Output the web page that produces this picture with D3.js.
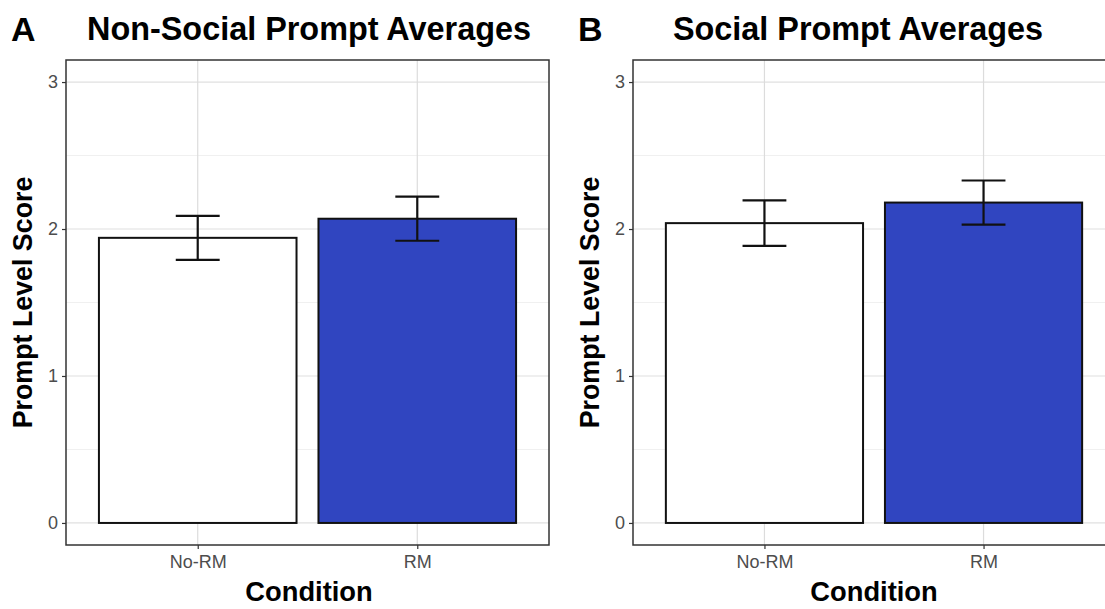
<!DOCTYPE html>
<html>
<head>
<meta charset="utf-8">
<script src="https://cdn.jsdelivr.net/npm/d3@7"></script>
<style>
  body { margin: 0; background: #fff; }
  svg { font-family: "Liberation Sans", Arial, sans-serif; }
</style>
</head>
<body>
<div id="chart"></div>
<script>
// data
const conditions = ["No-RM", "RM"];
const nonSocialMeans = [1.94, 2.07];
const nonSocialSE = [0.15, 0.15];
const socialMeans = [2.04, 2.18];
const socialSE = [0.155, 0.15];
const barColors = ["#ffffff", "#3045c0"];
const yTicks = [0, 1, 2, 3];
const yMinor = [0.5, 1.5, 2.5];

const svg = d3.select('#chart').append('svg')
    .attr('width', 1105)
    .attr('height', 609);

const panels = [
    {tag: "A", title: "Non-Social Prompt Averages", means: nonSocialMeans, se: nonSocialSE,
     left: 66, right: 549, titleX: 309, tagX: 11, xTitleX: 309},
    {tag: "B", title: "Social Prompt Averages", means: socialMeans, se: socialSE,
     left: 633, right: 1115, titleX: 858, tagX: 578, xTitleX: 874}
];

const panelTop = 60, panelBottom = 545;

panels.forEach(p => {
    const g = svg.append('g');

    const y = d3.scaleLinear().domain([-0.15, 3.15]).range([panelBottom, panelTop]);
    const x = d3.scalePoint().domain(conditions).range([p.left, p.right]).padding(0.6);
    const barW = x.step() * 0.9;
    const capW = x.step() * 0.2;

    // grid
    g.selectAll('.minor').data(yMinor).enter().append('line')
        .attr('x1', p.left).attr('x2', p.right)
        .attr('y1', d => y(d)).attr('y2', d => y(d))
        .attr('stroke', '#f0f0f0').attr('stroke-width', 1);
    g.selectAll('.major').data(yTicks).enter().append('line')
        .attr('x1', p.left).attr('x2', p.right)
        .attr('y1', d => y(d)).attr('y2', d => y(d))
        .attr('stroke', '#e0e0e0').attr('stroke-width', 1.2);
    g.selectAll('.vgrid').data(conditions).enter().append('line')
        .attr('x1', d => x(d)).attr('x2', d => x(d))
        .attr('y1', panelTop).attr('y2', panelBottom)
        .attr('stroke', '#dcdcdc').attr('stroke-width', 1.2);

    // bars
    g.selectAll('.bar').data(conditions).enter().append('rect')
        .attr('x', d => x(d) - barW / 2)
        .attr('width', barW)
        .attr('y', (d, i) => y(p.means[i]))
        .attr('height', (d, i) => y(0) - y(p.means[i]))
        .attr('fill', (d, i) => barColors[i])
        .attr('stroke', '#111')
        .attr('stroke-width', 2);

    // error bars
    conditions.forEach((c, i) => {
        const hi = y(p.means[i] + p.se[i]), lo = y(p.means[i] - p.se[i]);
        const cx = x(c);
        const eg = g.append('g').attr('stroke', '#111').attr('stroke-width', 2.2);
        eg.append('line').attr('x1', cx).attr('x2', cx).attr('y1', hi).attr('y2', lo);
        eg.append('line').attr('x1', cx - capW / 2).attr('x2', cx + capW / 2).attr('y1', hi).attr('y2', hi);
        eg.append('line').attr('x1', cx - capW / 2).attr('x2', cx + capW / 2).attr('y1', lo).attr('y2', lo);
    });

    // panel border
    g.append('rect')
        .attr('x', p.left).attr('y', panelTop)
        .attr('width', p.right - p.left).attr('height', panelBottom - panelTop)
        .attr('fill', 'none').attr('stroke', '#333').attr('stroke-width', 1.5);

    // axes
    const yAxis = d3.axisLeft(y).tickValues(yTicks).tickSize(4).tickPadding(4).tickFormat(d3.format('d'));
    const ya = g.append('g').attr('transform', `translate(${p.left},0)`).call(yAxis);
    const xAxis = d3.axisBottom(x).tickSize(4).tickPadding(6);
    const xa = g.append('g').attr('transform', `translate(0,${panelBottom})`).call(xAxis);
    [ya, xa].forEach(a => {
        a.select('.domain').remove();
        a.selectAll('.tick line').attr('stroke', '#333').attr('stroke-width', 1.2);
        a.selectAll('.tick text').attr('fill', '#4d4d4d').style('font-size', '18px');
    });

    // titles
    g.append('text').attr('x', p.tagX).attr('y', 41)
        .style('font-size', '34px').style('font-weight', 'bold').text(p.tag);
    g.append('text').attr('x', p.titleX).attr('y', 40).attr('text-anchor', 'middle')
        .style('font-size', '32.4px').style('font-weight', 'bold').text(p.title);
    g.append('text').attr('x', p.xTitleX).attr('y', 601)
        .attr('text-anchor', 'middle')
        .style('font-size', '27.3px').style('font-weight', 'bold').text('Condition');
    g.append('text')
        .attr('transform', `translate(${p.left - 34},${(panelTop + panelBottom) / 2}) rotate(-90)`)
        .attr('text-anchor', 'middle')
        .style('font-size', '26.8px').style('font-weight', 'bold').text('Prompt Level Score');
});
</script>
</body>
</html>
